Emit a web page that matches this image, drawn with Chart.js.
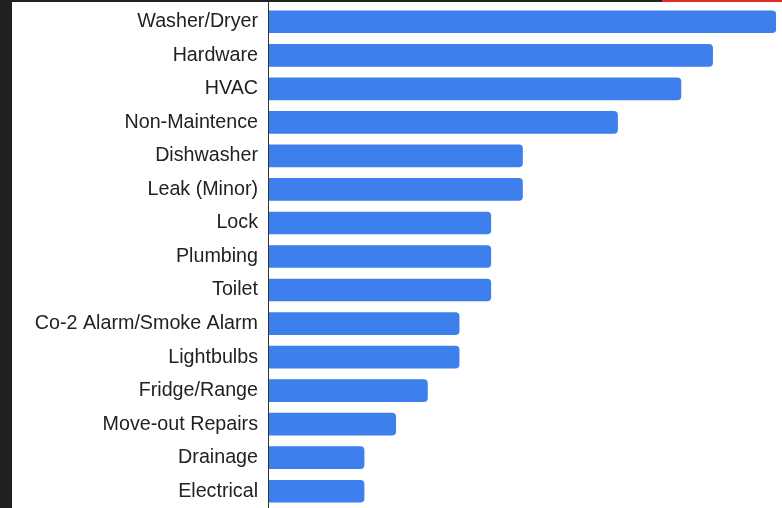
<!DOCTYPE html>
<html>
<head>
<meta charset="utf-8">
<script src="https://cdn.jsdelivr.net/npm/chart.js@4"></script>
<style>
  html, body { margin: 0; padding: 0; }
  body { width: 782px; height: 508px; background: #202020; position: relative; overflow: hidden; }
  #redline { position: absolute; left: 662px; top: 0; width: 120px; height: 2px; background: #e0282c; }
  #wrap { position: absolute; left: 12px; top: 2px; width: 770px; height: 506px; background: #fff; }
</style>
</head>
<body>
<div id="redline"></div>
<div id="wrap"><canvas id="myChart"></canvas></div>
<script>
const categories = ['Washer/Dryer', 'Hardware', 'HVAC', 'Non-Maintence', 'Dishwasher', 'Leak (Minor)',
  'Lock', 'Plumbing', 'Toilet', 'Co-2 Alarm/Smoke Alarm', 'Lightbulbs', 'Fridge/Range',
  'Move-out Repairs', 'Drainage', 'Electrical']
const counts = [16, 14, 13, 11, 8, 8, 7, 7, 7, 6, 6, 5, 4, 3, 3]
const xMax = 16

const graph = document.getElementById('myChart')

// axis line runs the full height of the panel
const axisLine = {
    id: 'axisLine',
    afterDraw(chart) {
        const ctx = chart.ctx
        const x = chart.chartArea.left - 0.5
        ctx.save()
        ctx.strokeStyle = '#333'
        ctx.lineWidth = 1
        ctx.beginPath()
        ctx.moveTo(x, 0)
        ctx.lineTo(x, chart.height)
        ctx.stroke()
        ctx.restore()
    }
}

new Chart(graph, {
    type: 'bar',
    data: {
        labels: categories,
        datasets: [{
            data: counts,
            backgroundColor: '#3d7fec',
            barThickness: 22,
            borderRadius: 4
        }]
    },
    options: {
        indexAxis: 'y',
        responsive: true,
        maintainAspectRatio: false,
        animation: false,
        layout: { padding: { top: 3, right: 6, bottom: 0, left: 0 } },
        plugins: { legend: { display: false }, tooltip: { enabled: false } },
        scales: {
            x: { display: false, min: 0, max: xMax },
            y: {
                grid: { display: false, drawTicks: false },
                border: { display: false },
                ticks: {
                    color: '#222',
                    padding: 11,
                    font: { family: 'Liberation Sans, Arial, sans-serif', size: 19.7 }
                },
                afterFit: (axis) => {
                    axis.width = 257
                    axis.paddingTop = 0
                    axis.paddingBottom = 0
                }
            }
        }
    },
    plugins: [axisLine]
})
</script>
</body>
</html>
